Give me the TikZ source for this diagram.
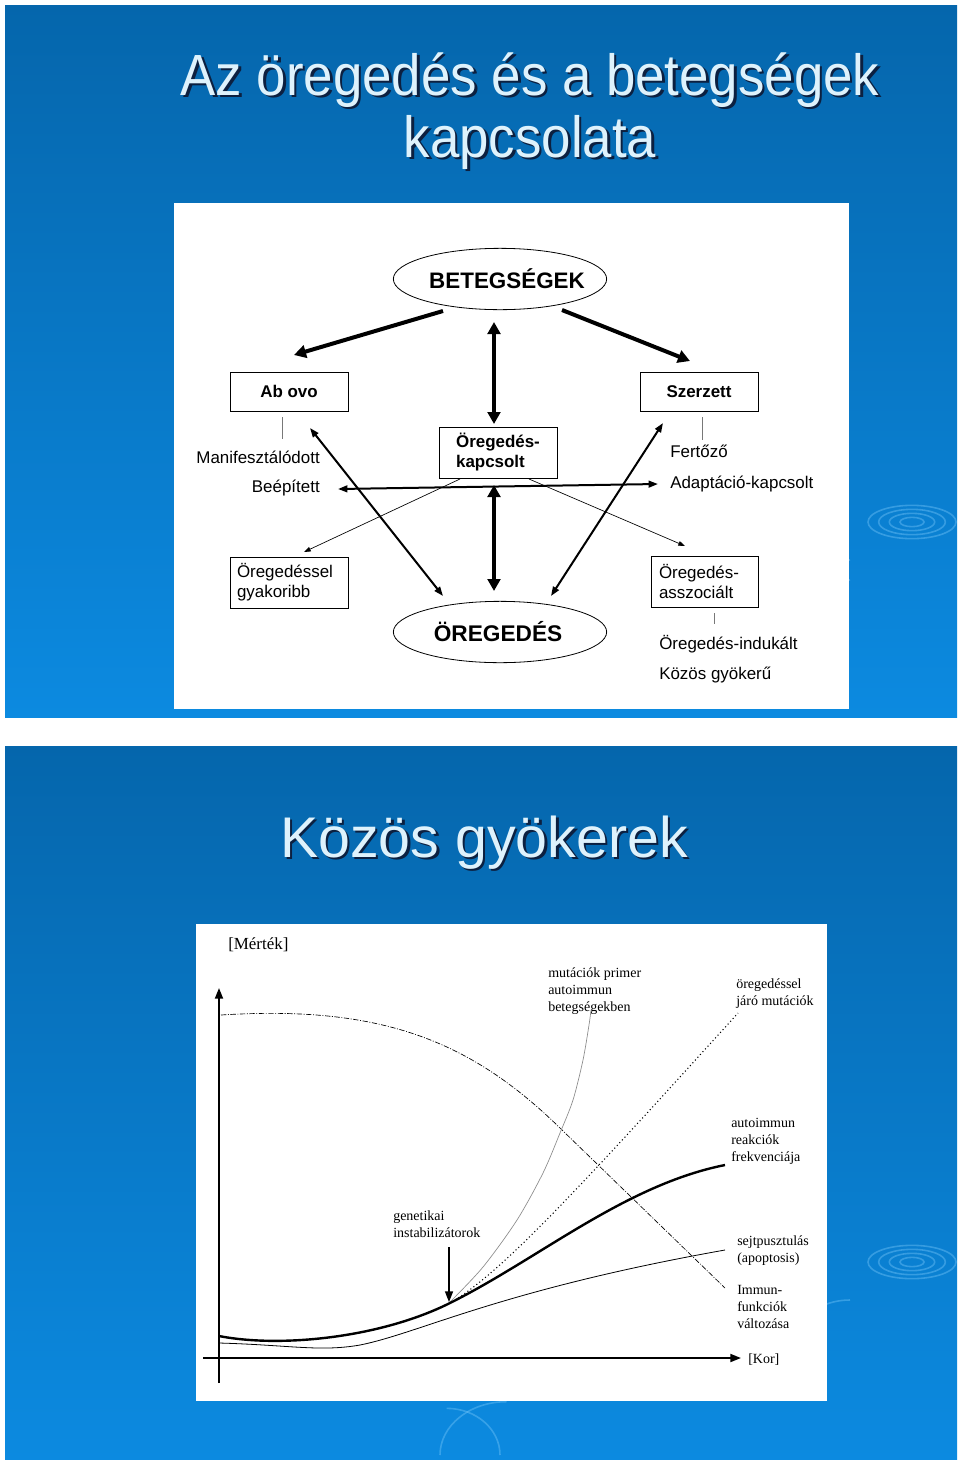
\documentclass[tikz,border=0pt]{standalone}
\usepackage{fontspec}
\usepackage{graphicx}
\setmainfont{Liberation Serif}
\setsansfont{Liberation Sans}
\usetikzlibrary{arrows.meta,shapes.geometric}
\definecolor{slidetop}{RGB}{5,102,172}
\definecolor{slidebot}{RGB}{12,138,224}
\definecolor{titlefill}{RGB}{222,242,252}
\definecolor{titledark}{RGB}{12,32,64}
\definecolor{ripple}{RGB}{120,200,250}
\definecolor{tickgray}{RGB}{120,120,120}
\definecolor{curvegray}{RGB}{140,140,140}
\tikzset{
  bigtip/.tip={Triangle[length=9pt,width=9.5pt]},
  midtip/.tip={Triangle[length=7pt,width=5pt]},
  smalltip/.tip={Triangle[length=5pt,width=3.5pt]},
  axistip/.tip={Triangle[length=8pt,width=6pt]},
  slidebg/.style={top color=slidetop,bottom color=slidebot,draw=none},
  panel/.style={fill=white,draw=none},
  titletext/.style={font=\sffamily\fontsize{39.6}{48}\selectfont,text=titlefill,inner sep=0pt,anchor=base},
  titleshade/.style={titletext,text=titledark},
  oval/.style={ellipse,draw,line width=0.6pt,minimum width=160pt,minimum height=46pt,inner sep=0pt,font=\sffamily\bfseries\fontsize{16.8}{20}\selectfont},
  boldbox/.style={draw,line width=0.6pt,minimum width=88.5pt,font=\sffamily\bfseries\fontsize{12.7}{15}\selectfont,inner sep=0pt,align=left},
  plainbox/.style={draw,line width=0.6pt,font=\sffamily\fontsize{12.7}{15}\selectfont,align=left,inner ysep=0pt,minimum height=38.25pt},
  lbl/.style={font=\sffamily\fontsize{12.7}{15}\selectfont,inner sep=0pt},
  thickarrow/.style={line width=3pt,-bigtip},
  thickdouble/.style={line width=3pt,bigtip-bigtip},
  middouble/.style={line width=1.5pt,midtip-midtip},
  thinarrow/.style={line width=0.5pt,-smalltip},
  tickline/.style={line width=0.5pt,draw=tickgray},
  chartlbl/.style={font=\rmfamily\fontsize{10.5}{12.75}\selectfont,inner sep=0pt,align=left,anchor=west},
  axisline/.style={line width=1.4pt,-axistip},
  ripplestyle/.style={draw=ripple,line width=1.2pt,opacity=0.4},
}
\begin{document}
\begin{tikzpicture}[x=0.75pt,y=-0.75pt]
\useasboundingbox (0,0) rectangle (960,1464);
\fill[white] (0,0) rectangle (960,1464);
% ---------- slide 1 ----------
\shade[slidebg] (5,5) rectangle (957,717);
\foreach \r/\s in {9/3.5,17/6.5,25/9.5,33/12.5}
  \draw[ripplestyle] (912,522) ellipse [x radius=\r pt, y radius=\s pt];
\draw[ripplestyle] (850,560) arc[start angle=90,end angle=160,x radius=40pt,y radius=30pt];
\draw[ripplestyle] (850,580) arc[start angle=90,end angle=160,x radius=30pt,y radius=22pt];
\node[titleshade] (t1s) at (532.5,97.5) {\scalebox{1}[1.1]{Az öregedés és a betegségek}};
\node[titletext]  (t1)  at (530,95) {\scalebox{1}[1.1]{Az öregedés és a betegségek}};
\node[titleshade] (t2s) at (532.5,159.5) {\scalebox{1}[1.1]{kapcsolata}};
\node[titletext]  (t2)  at (530,157) {\scalebox{1}[1.1]{kapcsolata}};
\fill[panel] (174,203) rectangle (849,709);
% nodes
\node[oval] (bet) at (500,279) {\makebox[0pt]{\hspace*{10.5pt}BETEGSÉGEK}};
\node[oval,font=\sffamily\bfseries\fontsize{17}{20}\selectfont] (oreg) at (500,632) {\makebox[0pt]{\hspace*{-3pt}ÖREGEDÉS}};
\node[boldbox,minimum height=29.25pt] (abovo) at (289,391.5) {Ab ovo};
\node[boldbox,minimum height=29.25pt] (szerz) at (699,391.5) {Szerzett};
\node[boldbox,minimum height=38.25pt] (okap) at (498,452.5) {Öregedés-\\kapcsolt};
\node[plainbox,text width=78pt,inner xsep=5.25pt] (ogyak) at (289,582.5) {Öregedéssel\\gyakoribb};
\node[plainbox,text width=68.25pt,inner xsep=6pt] (oasz) at (704.5,581.5) {Öregedés-\\asszociált};
\node[lbl,anchor=east] (manif) at (320,457) {Manifesztálódott};
\node[lbl,anchor=east] (beep) at (320,488) {Beépített};
\node[lbl,anchor=west] (fert) at (670,451) {Fertőző};
\node[lbl,anchor=west] (adapt) at (670,484) {Adaptáció-kapcsolt};
\node[lbl,anchor=west] (indu) at (659,644) {Öregedés-indukált};
\node[lbl,anchor=west] (kozos) at (659,675) {Közös gyökerű};
% connector end points
\coordinate (b1) at (443,311); \coordinate (b2) at (294,355);
\coordinate (b3) at (562,310); \coordinate (b4) at (690,361);
\coordinate (v1) at (494,322); \coordinate (v2) at (494,424);
\coordinate (v3) at (494,485); \coordinate (v4) at (494,591);
\coordinate (d1) at (310,428); \coordinate (d2) at (443,596);
\coordinate (d3) at (663,423); \coordinate (d4) at (551,596);
\coordinate (h1) at (338,489); \coordinate (h2) at (658,484);
\coordinate (k1) at (460,479); \coordinate (k2) at (304,552);
\coordinate (k3) at (529,479); \coordinate (k4) at (685,546);
\coordinate (tA1) at (282,417); \coordinate (tA2) at (282,439);
\coordinate (tB1) at (702,417); \coordinate (tB2) at (702,440);
\coordinate (tC1) at (714,613); \coordinate (tC2) at (714,624);
\draw[thickarrow] (b1) -- (b2);
\draw[thickarrow] (b3) -- (b4);
\draw[thickdouble] (v1) -- (v2);
\draw[thickdouble] (v3) -- (v4);
\draw[middouble] (d1) -- (d2);
\draw[middouble] (d3) -- (d4);
\draw[middouble] (h1) -- (h2);
\draw[thinarrow] (k1) -- (k2);
\draw[thinarrow] (k3) -- (k4);
\draw[tickline] (tA1) -- (tA2);
\draw[tickline] (tB1) -- (tB2);
\draw[tickline] (tC1) -- (tC2);
% ---------- slide 2 ----------
\shade[slidebg] (5,746) rectangle (957,1459);
\foreach \r/\s in {9/3.5,17/6.5,25/9.5,33/12.5}
  \draw[ripplestyle] (912,1262) ellipse [x radius=\r pt, y radius=\s pt];
\draw[ripplestyle] (850,1300) arc[start angle=90,end angle=160,x radius=40pt,y radius=30pt];
\draw[ripplestyle] (440,1455) arc[start angle=180,end angle=90,x radius=50pt,y radius=40pt];
\draw[ripplestyle] (500,1455) arc[start angle=0,end angle=90,x radius=40pt,y radius=35pt];
\node[titleshade,font=\sffamily\fontsize{43}{50}\selectfont] (t3s) at (486.5,859.5) {Közös gyökerek};
\node[titletext,font=\sffamily\fontsize{43}{50}\selectfont]  (t3)  at (484,857) {Közös gyökerek};
\fill[panel] (196,924) rectangle (827,1401);
% axes
\coordinate (ya) at (219,1383); \coordinate (yb) at (219,988);
\coordinate (xa) at (203,1358); \coordinate (xb) at (741,1358);
\draw[axisline] (ya) -- (yb);
\draw[axisline] (xa) -- (xb);
% curves
\draw[line width=0.5pt,dash pattern=on 4pt off 1.2pt on 0.7pt off 1.2pt]
  (221,1015) .. controls (380,1005) and (470,1040) .. (560,1128) -- (725,1288);
\draw[line width=0.5pt,draw=curvegray] plot[smooth] coordinates
  {(450,1302) (483,1267) (517,1220) (543,1173) (560,1133) (573,1100) (583,1060) (589,1025) (591,1010)};
\draw[line width=0.8pt,dotted] (452,1302) .. controls (500,1272) and (560,1210) .. (738,1013);
\draw[line width=1.8pt]
  (219,1336) .. controls (280,1348) and (380,1338) .. (450,1303)
  .. controls (540,1258) and (625,1185) .. (725,1165);
\draw[line width=0.6pt]
  (219,1343) .. controls (290,1345) and (320,1352) .. (360,1345)
  .. controls (420,1333) and (500,1290) .. (725,1250);
\coordinate (g1) at (449,1247); \coordinate (g2) at (449,1302);
\draw[line width=1.1pt,-axistip] (g1) -- (g2);
% labels
\node[chartlbl,font=\rmfamily\fontsize{12.7}{15}\selectfont] (mert) at (228,945) {[Mérték]};
\node[chartlbl] (mut) at (548,991) {mutációk primer\\autoimmun\\betegségekben};
\node[chartlbl] (oregmut) at (736,993.5) {öregedéssel\\járó mutációk};
\node[chartlbl] (autor) at (731,1141) {autoimmun\\reakciók\\frekvenciája};
\node[chartlbl] (gen) at (393,1224.5) {genetikai\\instabilizátorok};
\node[chartlbl] (sejt) at (737,1250.5) {sejtpusztulás\\(apoptosis)};
\node[chartlbl] (immun) at (737,1307) {Immun-\\funkciók\\változása};
\node[chartlbl] (kor) at (748,1360) {[Kor]};
\end{tikzpicture}
\end{document}
